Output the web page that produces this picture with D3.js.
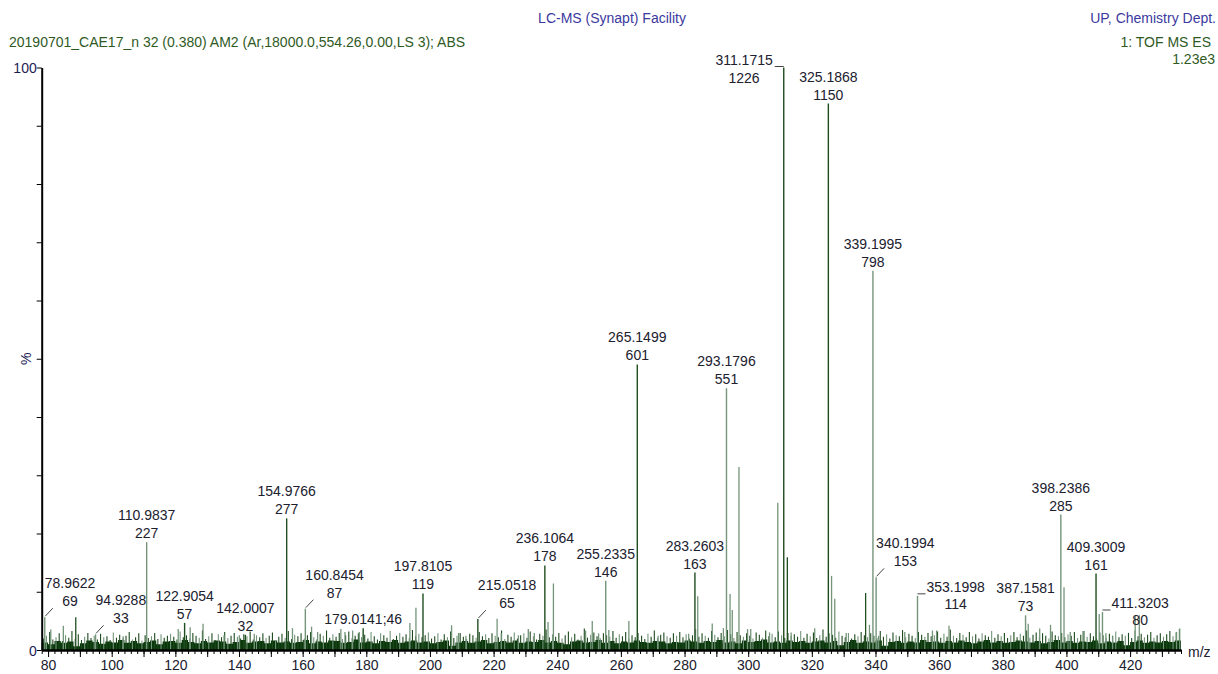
<!DOCTYPE html>
<html><head><meta charset="utf-8">
<script src="https://cdn.jsdelivr.net/npm/d3@7"></script>
<style>
body{margin:0;background:#fff}
svg{display:block}
text{font-family:"Liberation Sans",Arial,sans-serif;font-size:14px}
</style>
</head><body>
<svg id="c" width="1218" height="674"></svg>
<script>
// ---------- DATA ----------
const labMz  = [78.9622, 94.9288, 110.9837, 122.9054, 142.0007, 154.9766, 160.8454, 179.0141, 197.8105, 215.0518, 236.1064, 255.2335, 265.1499, 283.2603, 293.1796, 311.1715, 325.1868, 339.1995, 340.1994, 353.1998, 387.1581, 398.2386, 409.3009, 411.3203];
const labInt = [69, 33, 227, 57, 32, 277, 87, 46, 119, 65, 178, 146, 601, 163, 551, 1226, 1150, 798, 153, 114, 73, 285, 161, 80];

const secMz  = [80.85, 84.8, 88.7, 103.6, 120.9, 124.65, 128.7, 135.3, 140.1, 144.8, 156.8, 162.8, 164.7, 172.0, 173.3, 175.7, 177.8, 193.7, 195.6, 206.8, 209.0, 211.3, 221.1, 222.4, 227.8, 230.9, 232.8, 237.1, 238.8, 248.9, 251.0, 253.0, 256.2, 262.5, 271.7, 281.3, 284.15, 288.7, 292.2, 294.3, 295.0, 297.1, 299.8, 300.8, 306.7, 309.3, 312.3, 313.5, 320.9, 326.2, 327.2, 330.8, 336.9, 338.1, 341.0, 349.2, 357.9, 359.2, 363.1, 388.0, 391.6, 395.0, 399.24, 401.2, 405.2, 410.3, 412.4, 414.5, 421.6, 422.9, 434.6, 435.6];
const secInt = [43, 51, 69, 29, 44, 48, 55, 31, 31, 34, 46, 49, 38, 44, 38, 41, 38, 57, 89, 52, 36, 30, 66, 35, 31, 44, 36, 59, 140, 41, 61, 35, 42, 61, 30, 34, 113, 56, 46, 118, 84, 385, 44, 44, 37, 310, 195, 37, 46, 156, 108, 36, 120, 53, 30, 38, 41, 41, 51, 55, 45, 53, 132, 38, 40, 76, 35, 29, 73, 73, 38, 45];

// baseline noise sticks, one per m/z unit starting at 78.5
const noiseFirstMz = 78.5, noiseStep = 1;
const noiseInt = [
 24,30,38,22,27,35,19,31,26,40,23,33,21,28,36,25,30,22,34,27,
 29,21,37,26,32,24,30,38,22,27,35,20,31,25,29,36,23,33,26,30,
 34,28,22,39,27,31,24,36,30,26,41,23,29,35,21,33,27,38,25,30,
 36,28,24,33,29,39,22,31,27,35,25,30,37,21,28,34,26,40,23,32,
 29,35,24,31,38,27,22,34,30,41,26,33,28,36,23,31,39,25,30,35,
 27,32,24,38,29,22,35,31,26,40,23,30,36,28,33,25,42,29,34,27,
 31,37,24,29,35,22,33,27,39,25,30,36,28,23,34,31,26,38,29,33,
 25,35,30,27,41,23,32,28,37,24,31,35,26,39,29,22,34,30,43,27,
 33,28,36,24,31,39,27,34,22,30,45,26,32,37,29,25,35,31,28,40,
 26,33,29,38,24,31,27,36,30,23,34,28,41,25,32,37,29,26,35,30,
 38,27,33,24,31,44,28,35,30,26,40,32,27,36,29,42,33,25,38,31,
 28,35,30,24,37,32,26,41,29,34,27,39,31,25,36,30,33,28,40,26,
 34,29,37,25,31,43,28,35,32,26,39,30,27,36,24,33,29,38,31,27,
 35,30,26,40,28,33,24,37,31,29,42,27,34,30,25,38,32,28,36,29,
 31,39,26,34,28,43,30,25,36,32,27,38,29,33,24,35,31,28,40,26,
 33,29,36,25,31,38,27,34,30,41,26,32,37,28,35,30,24,39,31,29,
 36,27,33,30,38,25,32,40,28,35,29,24,37,31,26,34,30,39,27,33,
 30,36,25,41,29,34,27,32,38,26,31,35,28,33,40,29,37,44
];

// dense baseline "grass" level, one per 2 m/z units starting at 78
const grassFirstMz = 78, grassStep = 2;
const grassInt = [
 16,12,19,15,18,8,14,20,17,13,18,16,21,15,19,14,17,20,12,18,
 19,15,21,17,14,19,16,20,18,13,17,21,15,18,19,14,20,16,18,15,
 17,21,14,18,16,20,19,15,17,22,16,18,14,19,17,21,15,18,20,16,
 18,14,17,20,9,16,19,15,18,21,14,17,19,16,20,15,18,17,21,16,
 19,15,12,18,20,16,17,21,15,19,14,18,16,20,17,15,19,18,14,17,
 16,20,18,15,19,17,21,16,18,14,20,17,19,22,16,18,15,20,17,19,
 15,18,20,16,19,10,17,21,15,18,16,20,9,17,19,15,18,16,21,17,
 18,15,19,16,20,17,14,18,21,16,19,15,17,20,18,16,19,14,17,21,
 16,19,15,18,17,20,14,18,16,19,10,17,20,15,18,16,19,17,20
];

const xTickLabels = [80,100,120,140,160,180,200,220,240,260,280,300,320,340,360,380,400,420];
const yTickLabels = [0,100];

// ---------- STYLE / LAYOUT ----------
const SX = 1;
const DARK = "#1f4d1f", LIGHT = "#74957a", GRASS = "#0a360b";
const TXT = "#20202e", PURPLE = "#3b3a9e", GREEN = "#2f5a1f";
const darkSet = new Set([122.9054,142.0007,154.9766,179.0141,197.8105,236.1064,265.1499,283.2603,311.1715,325.1868,409.3009,312.3,336.9,215.0518,88.7]);
const labelMode = {78.9622:"diag",94.9288:"diag",160.8454:"diag",215.0518:"diag",340.1994:"diag",
  353.1998:"side",411.3203:"side",311.1715:"left",179.0141:"inline"};

const svg = d3.select("#c");
const x = d3.scaleLinear().domain([78,436]).range([41.7,1181]);
const y = d3.scaleLinear().domain([0,100]).range([650,67.5]);
const maxInt = d3.max(labInt);
const pct = c => c / maxInt * 100;

function txt(sel, px, py, s, anchor, fill){
  return sel.append("text").attr("transform",`translate(${px},${py}) scale(${SX},1)`)
    .attr("text-anchor",anchor).attr("fill",fill).text(s);
}

// header
txt(svg, 612, 23, "LC-MS (Synapt) Facility", "middle", PURPLE);
txt(svg, 1216, 23, "UP, Chemistry Dept.", "end", PURPLE);
txt(svg, 9, 47, "20190701_CAE17_n 32 (0.380) AM2 (Ar,18000.0,554.26,0.00,LS 3); ABS", "start", GREEN);
txt(svg, 1211, 47, "1: TOF MS ES", "end", GREEN);
txt(svg, 1215, 64, "1.23e3", "end", GREEN);

const plot = svg.append("g");

// grass
const grassPts = grassInt.map((v,i)=>({m:grassFirstMz+i*grassStep, v}));
grassPts.push({m:grassFirstMz+grassInt.length*grassStep, v:grassInt[grassInt.length-1]});
plot.append("path").datum(grassPts)
  .attr("fill",GRASS)
  .attr("d", d3.area().curve(d3.curveStepAfter).x(d=>x(d.m)).y0(y(0)).y1(d=>y(pct(d.v))));

// noise sticks
plot.selectAll("line.noise").data(noiseInt).join("line").attr("class","noise")
  .attr("x1",(d,i)=>x(noiseFirstMz+i*noiseStep)).attr("x2",(d,i)=>x(noiseFirstMz+i*noiseStep))
  .attr("y1",y(0)).attr("y2",d=>y(pct(d)))
  .attr("stroke",(d,i)=> i%3===1 ? LIGHT : "#1d4a1d").attr("stroke-width",1.1);

// secondary peaks
plot.selectAll("line.sec").data(secMz).join("line").attr("class","sec")
  .attr("x1",d=>x(d)).attr("x2",d=>x(d))
  .attr("y1",y(0)).attr("y2",(d,i)=>y(pct(secInt[i])))
  .attr("stroke",d=>darkSet.has(d)?DARK:LIGHT).attr("stroke-width",1.3);

// labelled peaks
plot.selectAll("line.lab").data(labMz).join("line").attr("class","lab")
  .attr("x1",d=>x(d)).attr("x2",d=>x(d))
  .attr("y1",y(0)).attr("y2",(d,i)=>y(pct(labInt[i])))
  .attr("stroke",d=>darkSet.has(d)?DARK:LIGHT).attr("stroke-width",1.4);

// peak labels
const lg = svg.append("g");
labMz.forEach((mz,i)=>{
  const px = x(mz), py = y(pct(labInt[i]));
  const t1 = mz.toFixed(4), t2 = String(labInt[i]);
  const mode = labelMode[mz] || "above";
  if(mode==="above"){
    txt(lg, px, py-22, t1, "middle", TXT);
    txt(lg, px, py-4, t2, "middle", TXT);
  } else if(mode==="diag"){
    lg.append("line").attr("x1",px+0.5).attr("y1",py-1).attr("x2",px+8).attr("y2",py-9)
      .attr("stroke","#444").attr("stroke-width",1);
    const t = txt(lg, px, py-29, t1, "start", TXT);
    const w = t.node().getComputedTextLength()*SX;
    txt(lg, px+w/2, py-11, t2, "middle", TXT);
  } else if(mode==="side"){
    lg.append("line").attr("x1",px).attr("y1",py-2).attr("x2",px+8).attr("y2",py-2)
      .attr("stroke","#444").attr("stroke-width",1);
    const t = txt(lg, px+9, py-4, t1, "start", TXT);
    const w = t.node().getComputedTextLength()*SX;
    txt(lg, px+9+w/2, py+13, t2, "middle", TXT);
  } else if(mode==="left"){
    lg.append("line").attr("x1",px-9).attr("y1",py-1).attr("x2",px).attr("y2",py-1)
      .attr("stroke","#444").attr("stroke-width",1);
    const t = txt(lg, px-11, py-3, t1, "end", TXT);
    const w = t.node().getComputedTextLength()*SX;
    txt(lg, px-11-w/2, py+15, t2, "middle", TXT);
  } else {
    txt(lg, px, py-4, t1+";"+t2, "middle", TXT);
  }
});

// axes
const minor = d3.range(78, 437, 2);
const major = d3.range(80, 431, 10);
const ax = svg.append("g").attr("transform",`translate(0,${y(0)})`);
ax.call(d3.axisBottom(x).tickValues(minor).tickSize(4).tickSizeOuter(0).tickFormat(""));
const ax2 = svg.append("g").attr("transform",`translate(0,${y(0)})`);
ax2.call(d3.axisBottom(x).tickValues(major).tickSize(7).tickSizeOuter(0)
  .tickFormat(d => xTickLabels.includes(d) ? d : ""));
[ax,ax2].forEach(g=>{
  g.select(".domain").attr("stroke","#000").attr("stroke-width",2);
  g.selectAll(".tick line").attr("stroke","#000").attr("stroke-width",1);
});
ax2.selectAll(".tick text").attr("fill",TXT).attr("y",0).attr("dy",0)
  .attr("transform",`translate(0,20)`)
  .style("font-size","14px").style("font-family",'"Liberation Sans",Arial,sans-serif');
txt(svg, 1188, 657, "m/z", "start", TXT);

const ay = svg.append("g").attr("transform",`translate(${x(78)},0)`);
ay.call(d3.axisLeft(y).tickValues(d3.range(0,101,10)).tickSize(5).tickSizeOuter(0)
  .tickFormat(d => yTickLabels.includes(d) ? d : ""));
ay.select(".domain").attr("stroke","#000").attr("stroke-width",2);
ay.selectAll(".tick line").attr("stroke","#000").attr("stroke-width",1);
ay.selectAll(".tick text").attr("fill","#1d1d55").attr("x",-5).attr("dy",0)
  .attr("transform",`translate(0,5)`)
  .style("font-size","14px").style("font-family",'"Liberation Sans",Arial,sans-serif');
svg.append("text").attr("transform",`translate(31,${y(50)}) rotate(-90)`)
  .attr("text-anchor","middle").attr("fill","#1d1d55").text("%");
</script>
</body></html>
